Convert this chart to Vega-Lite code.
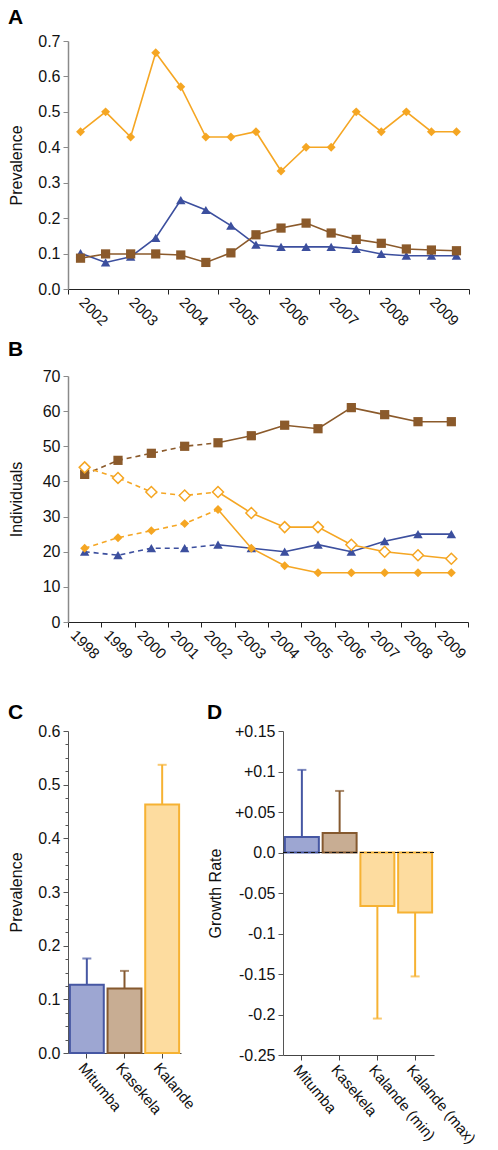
{
  "$schema": "https://vega.github.io/schema/vega-lite/v6.json",
  "padding": {"left": 8, "top": 7, "right": 6, "bottom": 40},
  "config": {
    "font": "Liberation Sans",
    "view": {"stroke": null},
    "axis": {"labelFontSize": 16, "titleFontSize": 16, "titleFontWeight": "normal", "labelColor": "#111", "titleColor": "#111", "grid": false, "labelOverlap": false, "labelFlush": false, "labelBound": false},
    "axisX": {"labelFontSize": 15},
    "title": {"fontSize": 21, "fontWeight": "bold", "anchor": "start", "frame": "bounds", "color": "#000"}
  },
  "resolve": {"scale": {"color": "independent", "fill": "independent", "stroke": "independent", "shape": "independent", "size": "independent"}},
  "spacing": 40,
  "vconcat": [
    {
      "bounds": "flush",
      "spacing": 87,
      "resolve": {"scale": {"color": "independent", "shape": "independent", "size": "independent"}},
      "vconcat": [
        {
          "width": 401, "height": 248,
          "title": {"text": "A", "offset": 5},
          "data": {"values": [
            {"t": 2002.25, "g": "Kalande", "v": 0.444}, {"t": 2002.75, "g": "Kalande", "v": 0.5}, {"t": 2003.25, "g": "Kalande", "v": 0.429}, {"t": 2003.75, "g": "Kalande", "v": 0.667},
            {"t": 2004.25, "g": "Kalande", "v": 0.571}, {"t": 2004.75, "g": "Kalande", "v": 0.429}, {"t": 2005.25, "g": "Kalande", "v": 0.429}, {"t": 2005.75, "g": "Kalande", "v": 0.444},
            {"t": 2006.25, "g": "Kalande", "v": 0.333}, {"t": 2006.75, "g": "Kalande", "v": 0.4}, {"t": 2007.25, "g": "Kalande", "v": 0.4}, {"t": 2007.75, "g": "Kalande", "v": 0.5},
            {"t": 2008.25, "g": "Kalande", "v": 0.444}, {"t": 2008.75, "g": "Kalande", "v": 0.5}, {"t": 2009.25, "g": "Kalande", "v": 0.444}, {"t": 2009.75, "g": "Kalande", "v": 0.444},
            {"t": 2002.25, "g": "Mitumba", "v": 0.101}, {"t": 2002.75, "g": "Mitumba", "v": 0.075}, {"t": 2003.25, "g": "Mitumba", "v": 0.091}, {"t": 2003.75, "g": "Mitumba", "v": 0.144},
            {"t": 2004.25, "g": "Mitumba", "v": 0.251}, {"t": 2004.75, "g": "Mitumba", "v": 0.223}, {"t": 2005.25, "g": "Mitumba", "v": 0.179}, {"t": 2005.75, "g": "Mitumba", "v": 0.125},
            {"t": 2006.25, "g": "Mitumba", "v": 0.119}, {"t": 2006.75, "g": "Mitumba", "v": 0.119}, {"t": 2007.25, "g": "Mitumba", "v": 0.119}, {"t": 2007.75, "g": "Mitumba", "v": 0.113},
            {"t": 2008.25, "g": "Mitumba", "v": 0.099}, {"t": 2008.75, "g": "Mitumba", "v": 0.094}, {"t": 2009.25, "g": "Mitumba", "v": 0.094}, {"t": 2009.75, "g": "Mitumba", "v": 0.094},
            {"t": 2002.25, "g": "Kasekela", "v": 0.087}, {"t": 2002.75, "g": "Kasekela", "v": 0.099}, {"t": 2003.25, "g": "Kasekela", "v": 0.099}, {"t": 2003.75, "g": "Kasekela", "v": 0.099},
            {"t": 2004.25, "g": "Kasekela", "v": 0.096}, {"t": 2004.75, "g": "Kasekela", "v": 0.075}, {"t": 2005.25, "g": "Kasekela", "v": 0.102}, {"t": 2005.75, "g": "Kasekela", "v": 0.153},
            {"t": 2006.25, "g": "Kasekela", "v": 0.172}, {"t": 2006.75, "g": "Kasekela", "v": 0.186}, {"t": 2007.25, "g": "Kasekela", "v": 0.158}, {"t": 2007.75, "g": "Kasekela", "v": 0.14},
            {"t": 2008.25, "g": "Kasekela", "v": 0.129}, {"t": 2008.75, "g": "Kasekela", "v": 0.113}, {"t": 2009.25, "g": "Kasekela", "v": 0.11}, {"t": 2009.75, "g": "Kasekela", "v": 0.108}
          ]},
          "encoding": {
            "x": {"field": "t", "type": "quantitative", "scale": {"domain": [2002, 2010], "nice": false, "zero": false},
              "axis": {"title": null, "values": [2002, 2002.5, 2003, 2003.5, 2004, 2004.5, 2005, 2005.5, 2006, 2006.5, 2007, 2007.5, 2008, 2008.5, 2009, 2009.5, 2010],
                "labelExpr": "datum.value % 1 != 0 ? toString(floor(datum.value)) : ''",
                "tickOpacity": {"condition": {"test": "datum.value % 1 == 0", "value": 1}, "value": 0},
                "labelAngle": 45, "labelAlign": "center", "labelBaseline": "middle", "tickSize": 5, "labelPadding": 17,
                "domainColor": "#222", "tickColor": "#222"}},
            "y": {"field": "v", "type": "quantitative", "scale": {"domain": [0, 0.7], "nice": false},
              "axis": {"title": "Prevalence", "values": [0, 0.1, 0.2, 0.3, 0.4, 0.5, 0.6, 0.7], "format": ".1f", "tickSize": 5, "labelPadding": 3,
                "minExtent": 34, "maxExtent": 34, "titlePadding": 10, "domainColor": "#8a8a8a", "tickColor": "#8a8a8a", "domainWidth": 1.5}},
            "color": {"field": "g", "type": "nominal", "scale": {"domain": ["Mitumba", "Kasekela", "Kalande"], "range": ["#3c4f9e", "#8b5a2b", "#f5a623"]}, "legend": null}
          },
          "layer": [
            {"mark": {"type": "line", "strokeWidth": 1.6}, "encoding": {"detail": {"field": "g"}}},
            {"mark": {"type": "point", "filled": true, "opacity": 1},
              "encoding": {
                "shape": {"field": "g", "type": "nominal", "scale": {"domain": ["Mitumba", "Kasekela", "Kalande"], "range": ["triangle-up", "square", "diamond"]}, "legend": null},
                "size": {"field": "g", "type": "nominal", "scale": {"domain": ["Mitumba", "Kasekela", "Kalande"], "range": [90, 80, 150]}, "legend": null}
              }}
          ]
        },
        {
          "width": 400, "height": 246,
          "title": {"text": "B", "offset": 8},
          "data": {"values": [
            {"year": 1998, "g": "Mitumba", "v": 20}, {"year": 1999, "g": "Mitumba", "v": 19}, {"year": 2000, "g": "Mitumba", "v": 21}, {"year": 2001, "g": "Mitumba", "v": 21},
            {"year": 2002, "g": "Mitumba", "v": 22}, {"year": 2003, "g": "Mitumba", "v": 21}, {"year": 2004, "g": "Mitumba", "v": 20}, {"year": 2005, "g": "Mitumba", "v": 22},
            {"year": 2006, "g": "Mitumba", "v": 20}, {"year": 2007, "g": "Mitumba", "v": 23}, {"year": 2008, "g": "Mitumba", "v": 25}, {"year": 2009, "g": "Mitumba", "v": 25},
            {"year": 1998, "g": "Kasekela", "v": 42}, {"year": 1999, "g": "Kasekela", "v": 46}, {"year": 2000, "g": "Kasekela", "v": 48}, {"year": 2001, "g": "Kasekela", "v": 50},
            {"year": 2002, "g": "Kasekela", "v": 51}, {"year": 2003, "g": "Kasekela", "v": 53}, {"year": 2004, "g": "Kasekela", "v": 56}, {"year": 2005, "g": "Kasekela", "v": 55},
            {"year": 2006, "g": "Kasekela", "v": 61}, {"year": 2007, "g": "Kasekela", "v": 59}, {"year": 2008, "g": "Kasekela", "v": 57}, {"year": 2009, "g": "Kasekela", "v": 57},
            {"year": 1998, "g": "Kalande (max)", "v": 44}, {"year": 1999, "g": "Kalande (max)", "v": 41}, {"year": 2000, "g": "Kalande (max)", "v": 37}, {"year": 2001, "g": "Kalande (max)", "v": 36},
            {"year": 2002, "g": "Kalande (max)", "v": 37}, {"year": 2003, "g": "Kalande (max)", "v": 31}, {"year": 2004, "g": "Kalande (max)", "v": 27}, {"year": 2005, "g": "Kalande (max)", "v": 27},
            {"year": 2006, "g": "Kalande (max)", "v": 22}, {"year": 2007, "g": "Kalande (max)", "v": 20}, {"year": 2008, "g": "Kalande (max)", "v": 19}, {"year": 2009, "g": "Kalande (max)", "v": 18},
            {"year": 1998, "g": "Kalande (min)", "v": 21}, {"year": 1999, "g": "Kalande (min)", "v": 24}, {"year": 2000, "g": "Kalande (min)", "v": 26}, {"year": 2001, "g": "Kalande (min)", "v": 28},
            {"year": 2002, "g": "Kalande (min)", "v": 32}, {"year": 2003, "g": "Kalande (min)", "v": 21}, {"year": 2004, "g": "Kalande (min)", "v": 16}, {"year": 2005, "g": "Kalande (min)", "v": 14},
            {"year": 2006, "g": "Kalande (min)", "v": 14}, {"year": 2007, "g": "Kalande (min)", "v": 14}, {"year": 2008, "g": "Kalande (min)", "v": 14}, {"year": 2009, "g": "Kalande (min)", "v": 14}
          ]},
          "encoding": {
            "x": {"field": "year", "type": "ordinal", "scale": {"type": "band", "domain": [1998, 1999, 2000, 2001, 2002, 2003, 2004, 2005, 2006, 2007, 2008, 2009], "paddingInner": 0, "paddingOuter": 0},
              "axis": {"title": null, "tickBand": "extent", "labelAngle": 45, "labelAlign": "center", "labelBaseline": "middle", "tickSize": 5, "labelPadding": 17,
                "domainColor": "#222", "tickColor": "#222"}},
            "y": {"field": "v", "type": "quantitative", "scale": {"domain": [0, 70], "nice": false},
              "axis": {"title": "Individuals", "values": [0, 10, 20, 30, 40, 50, 60, 70], "tickSize": 5, "labelPadding": 3,
                "minExtent": 34, "maxExtent": 34, "titlePadding": 10, "domainColor": "#8a8a8a", "tickColor": "#8a8a8a", "domainWidth": 1.5}},
            "color": {"field": "g", "type": "nominal", "scale": {"domain": ["Mitumba", "Kasekela", "Kalande (max)", "Kalande (min)"], "range": ["#3c4f9e", "#8b5a2b", "#f5a623", "#f5a623"]}, "legend": null}
          },
          "layer": [
            {"transform": [{"filter": "datum.year <= 2002"}], "mark": {"type": "line", "strokeWidth": 1.6, "strokeDash": [5, 4]}, "encoding": {"detail": {"field": "g"}}},
            {"transform": [{"filter": "datum.year >= 2002"}], "mark": {"type": "line", "strokeWidth": 1.6}, "encoding": {"detail": {"field": "g"}}},
            {"transform": [{"filter": "datum.g != 'Kalande (max)'"}], "mark": {"type": "point", "filled": true, "opacity": 1},
              "encoding": {
                "shape": {"field": "g", "type": "nominal", "scale": {"domain": ["Mitumba", "Kasekela", "Kalande (min)"], "range": ["triangle-up", "square", "diamond"]}, "legend": null},
                "size": {"field": "g", "type": "nominal", "scale": {"domain": ["Mitumba", "Kasekela", "Kalande (min)"], "range": [90, 80, 150]}, "legend": null}
              }},
            {"transform": [{"filter": "datum.g == 'Kalande (max)'"}], "mark": {"type": "point", "shape": "diamond", "size": 120, "filled": false, "fill": "white", "fillOpacity": 1, "opacity": 1, "strokeWidth": 1.5}}
          ]
        }
      ]
    },
    {
      "bounds": "flush",
      "spacing": 102,
      "resolve": {"scale": {"color": "independent", "fill": "independent", "stroke": "independent"}},
      "hconcat": [
        {
          "width": 113, "height": 322,
          "title": {"text": "C", "offset": 0},
          "data": {"values": [
            {"site": "Mitumba", "v": 0.127, "err": 0.176},
            {"site": "Kasekela", "v": 0.12, "err": 0.153},
            {"site": "Kalande", "v": 0.463, "err": 0.537}
          ]},
          "encoding": {
            "x": {"field": "site", "type": "nominal", "scale": {"domain": ["Mitumba", "Kasekela", "Kalande"], "paddingInner": 0.1, "paddingOuter": 0.05},
              "axis": {"title": null, "labelAngle": 50, "labelAlign": "left", "labelBaseline": "top", "labelFontSize": 15, "tickSize": 5, "labelPadding": 2, "domainColor": "#444", "tickColor": "#444"}},
            "y": {"field": "v", "type": "quantitative", "title": "Prevalence", "scale": {"domain": [0, 0.6], "nice": false},
              "axis": {"values": [0, 0.025, 0.05, 0.075, 0.1, 0.125, 0.15, 0.175, 0.2, 0.225, 0.25, 0.275, 0.3, 0.325, 0.35, 0.375, 0.4, 0.425, 0.45, 0.475, 0.5, 0.525, 0.55, 0.575, 0.6],
                "labelExpr": "abs(datum.value*10 - round(datum.value*10)) < 0.000001 ? format(datum.value, '.1f') : ''",
                "tickSize": {"condition": {"test": "abs(datum.value*10 - round(datum.value*10)) < 0.000001", "value": 5}, "value": 3},
                "labelPadding": 3, "minExtent": 34, "maxExtent": 34, "titlePadding": 10, "domainColor": "#555", "tickColor": "#555"}}
          },
          "layer": [
            {"mark": {"type": "bar", "strokeWidth": 2},
              "encoding": {
                "fill": {"field": "site", "type": "nominal", "scale": {"domain": ["Mitumba", "Kasekela", "Kalande"], "range": ["#9da6d2", "#c8ad93", "#fddc9f"]}, "legend": null},
                "stroke": {"field": "site", "type": "nominal", "scale": {"domain": ["Mitumba", "Kasekela", "Kalande"], "range": ["#4657a3", "#85592f", "#f6b233"]}, "legend": null}
              }},
            {"mark": {"type": "rule", "strokeWidth": 2},
              "encoding": {"y2": {"field": "err"},
                "color": {"field": "site", "type": "nominal", "scale": {"domain": ["Mitumba", "Kasekela", "Kalande"], "range": ["#4657a3", "#85592f", "#f6b233"]}, "legend": null}}},
            {"mark": {"type": "tick", "thickness": 2, "size": 9},
              "encoding": {"y": {"field": "err", "type": "quantitative", "title": "Prevalence"},
                "color": {"field": "site", "type": "nominal", "scale": {"domain": ["Mitumba", "Kasekela", "Kalande"], "range": ["#4657a3", "#85592f", "#f6b233"]}, "legend": null}}}
          ]
        },
        {
          "width": 151, "height": 324,
          "title": {"text": "D", "offset": 0},
          "data": {"values": [
            {"site": "Mitumba", "v": 0.019, "err": 0.102},
            {"site": "Kasekela", "v": 0.024, "err": 0.076},
            {"site": "Kalande (min)", "v": -0.066, "err": -0.205},
            {"site": "Kalande (max)", "v": -0.074, "err": -0.153}
          ]},
          "layer": [
            {"mark": {"type": "bar", "strokeWidth": 2},
              "encoding": {
                "x": {"field": "site", "type": "nominal", "scale": {"domain": ["Mitumba", "Kasekela", "Kalande (min)", "Kalande (max)"], "paddingInner": 0.1, "paddingOuter": 0.05},
                  "axis": {"title": null, "labelAngle": 50, "labelAlign": "left", "labelBaseline": "top", "labelFontSize": 15, "tickSize": 5, "labelPadding": 2, "domainColor": "#444", "tickColor": "#444"}},
                "y": {"field": "v", "type": "quantitative", "title": "Growth Rate", "scale": {"domain": [-0.25, 0.15], "nice": false, "zero": false},
                  "axis": {"values": [0.15, 0.125, 0.1, 0.075, 0.05, 0.025, 0, -0.025, -0.05, -0.075, -0.1, -0.125, -0.15, -0.175, -0.2, -0.225, -0.25],
                    "labelExpr": "abs(datum.value*20 - round(datum.value*20)) < 0.000001 ? (datum.value > 0.000001 ? '+' + format(datum.value, '~g') : (datum.value < -0.000001 ? '-' + format(-datum.value, '~g') : '0.0')) : ''",
                    "tickSize": {"condition": {"test": "abs(datum.value*20 - round(datum.value*20)) < 0.000001", "value": 5}, "value": 3},
                    "labelPadding": 3, "minExtent": 50, "maxExtent": 50, "titlePadding": 10, "domainColor": "#555", "tickColor": "#555"}},
                "fill": {"field": "site", "type": "nominal", "scale": {"domain": ["Mitumba", "Kasekela", "Kalande (min)", "Kalande (max)"], "range": ["#9da6d2", "#c8ad93", "#fddc9f", "#fddc9f"]}, "legend": null},
                "stroke": {"field": "site", "type": "nominal", "scale": {"domain": ["Mitumba", "Kasekela", "Kalande (min)", "Kalande (max)"], "range": ["#4657a3", "#85592f", "#f6b233", "#f6b233"]}, "legend": null}
              }},
            {"mark": {"type": "rule", "strokeWidth": 2},
              "encoding": {
                "x": {"field": "site", "type": "nominal"},
                "y": {"field": "v", "type": "quantitative", "title": "Growth Rate"},
                "y2": {"field": "err"},
                "color": {"field": "site", "type": "nominal", "scale": {"domain": ["Mitumba", "Kasekela", "Kalande (min)", "Kalande (max)"], "range": ["#4657a3", "#85592f", "#f6b233", "#f6b233"]}, "legend": null}}},
            {"mark": {"type": "tick", "thickness": 2, "size": 9},
              "encoding": {
                "x": {"field": "site", "type": "nominal"},
                "y": {"field": "err", "type": "quantitative", "title": "Growth Rate"},
                "color": {"field": "site", "type": "nominal", "scale": {"domain": ["Mitumba", "Kasekela", "Kalande (min)", "Kalande (max)"], "range": ["#4657a3", "#85592f", "#f6b233", "#f6b233"]}, "legend": null}}},
            {"mark": {"type": "rule", "strokeDash": [4, 3], "color": "#111", "strokeWidth": 1.2},
              "encoding": {"y": {"datum": 0}}}
          ]
        }
      ]
    }
  ]
}
